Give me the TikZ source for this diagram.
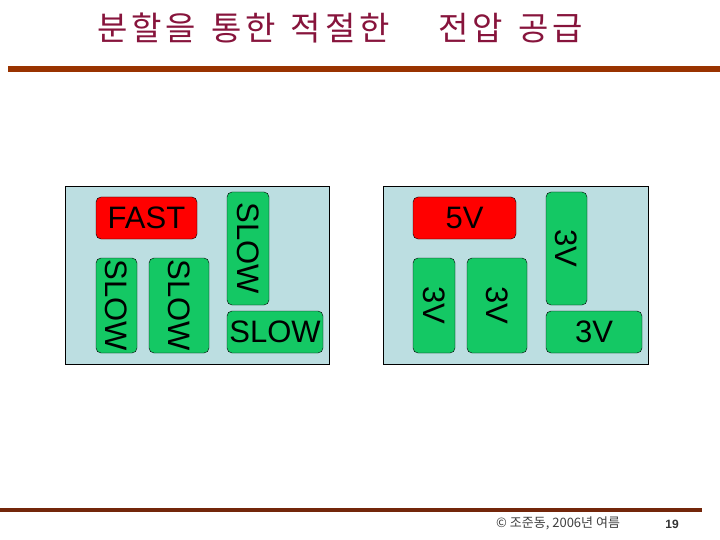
\documentclass[tikz,border=0pt]{standalone}
\usepackage{fontspec}
\setmainfont{Liberation Sans}
\newfontfamily\krfont{Noto Sans CJK KR}
\usepackage{tikz}
\usetikzlibrary{shapes,arrows,fit,positioning}
\definecolor{panelblue}{RGB}{188,222,225}
\definecolor{blockgreen}{RGB}{20,200,100}
\definecolor{titlered}{RGB}{135,20,60}
\definecolor{rulebrown}{RGB}{153,51,0}
\definecolor{footrule}{RGB}{115,38,10}
\newcommand{\tls}{\hspace{3.8pt}}
\tikzset{
  panel/.style={draw=black, fill=panelblue, rectangle, inner sep=0pt},
  blk/.style={draw=black, thin, rectangle, rounded corners=5pt, inner sep=0pt,
    font=\fontsize{31}{31}\selectfont},
  fastblk/.style={blk, fill=red},
  slowblk/.style={blk, fill=blockgreen},
  vblk/.style={slowblk, rotate=-90}
}

\begin{document}
\begin{tikzpicture}[x=1pt,y=-1pt]
\useasboundingbox[fill=white] (0,0) rectangle (720,540);

\node[anchor=west, text=titlered, inner sep=0pt] (title) at (97,28)
  {\krfont\fontsize{33}{33}\selectfont 분\tls 할\tls 을\tls\hspace{12pt}통\tls 한\tls\hspace{11pt}적\tls 절\tls 한\tls\hspace{45pt}전\tls 압\tls\hspace{12pt}공\tls 급};
\fill[rulebrown] (8,66) rectangle (720,72);

\node[panel, minimum width=264, minimum height=178] (left) at (197,275) {};
\node[fastblk, minimum width=101, minimum height=42] (fast) at (146.5,218) {FAST};
\node[vblk, minimum width=95, minimum height=41] (slowa) at (116.5,305.5) {SLOW};
\node[vblk, minimum width=95, minimum height=60] (slowb) at (179,305.5) {SLOW};
\node[vblk, minimum width=113, minimum height=42] (slowc) at (248,248.5) {SLOW};
\node[slowblk, minimum width=96, minimum height=42] (slowd) at (275,332) {SLOW};

\node[panel, minimum width=265, minimum height=178] (right) at (515.5,275) {};
\node[fastblk, minimum width=103, minimum height=42] (fivev) at (464.5,218) {5V};
\node[vblk, minimum width=95, minimum height=42] (threea) at (434,305.5) {3V};
\node[vblk, minimum width=95, minimum height=60] (threeb) at (497,305.5) {3V};
\node[vblk, minimum width=113, minimum height=41] (threec) at (566.5,248.5) {3V};
\node[slowblk, minimum width=96, minimum height=42] (threed) at (594,332) {3V};

\fill[footrule] (0,508) rectangle (702,512);
\node[anchor=west, inner sep=0pt, text=black!75] (foot) at (496,523)
  {\krfont\fontsize{13}{13}\selectfont © 조준동, 2006년 여름};
\node[inner sep=0pt, font=\bfseries\fontsize{12}{12}\selectfont, text=black!80] (page) at (672,524) {19};
\end{tikzpicture}
\end{document}
